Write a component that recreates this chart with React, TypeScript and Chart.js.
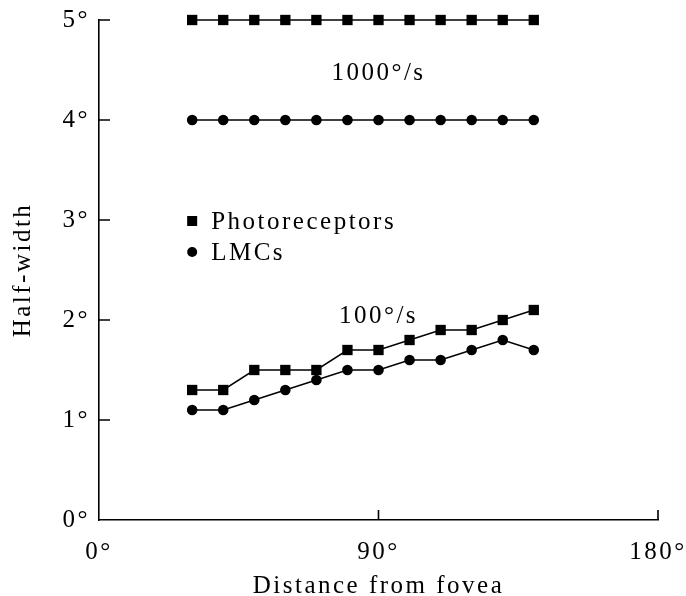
import { useEffect, useRef } from "react";
import { Chart, registerables } from "chart.js";

Chart.register(...registerables);

// ---- data ----
const distances = [30, 40, 50, 60, 70, 80, 90, 100, 110, 120, 130, 140];
const photoreceptors1000 = [5, 5, 5, 5, 5, 5, 5, 5, 5, 5, 5, 5];
const lmcs1000 = [4, 4, 4, 4, 4, 4, 4, 4, 4, 4, 4, 4];
const photoreceptors100 = [1.3, 1.3, 1.5, 1.5, 1.5, 1.7, 1.7, 1.8, 1.9, 1.9, 2.0, 2.1];
const lmcs100 = [1.1, 1.1, 1.2, 1.3, 1.4, 1.5, 1.5, 1.6, 1.6, 1.7, 1.8, 1.7];

const xTickValues = [0, 90, 180];
const yTickValues = [0, 1, 2, 3, 4, 5];
const xTitle = "Distance from fovea";
const yTitle = "Half-width";
const legendLabels = ["Photoreceptors", "LMCs"];
const speedLabels = ["1000°/s", "100°/s"];
// annotation anchor points in data units [x, y]
const speedLabelAnchors = [
  [90, 4.47],
  [90, 2.04],
];
const legendAnchors = [
  [30, 2.99],
  [30, 2.68],
];

const FONT = "'Liberation Serif', 'Times New Roman', serif";
const SPACING = "2.5px";

const toPoints = (ys: number[]) => distances.map((x, i) => ({ x, y: ys[i] }));

const letterSpacingPlugin = {
  id: "letterSpacing",
  beforeDraw(chart: any) {
    (chart.ctx as any).letterSpacing = SPACING;
  },
};

const decorPlugin = {
  id: "decor",
  afterDraw(chart: any) {
    const { ctx } = chart;
    const xs = chart.scales.x;
    const ys = chart.scales.y;
    ctx.save();
    ctx.strokeStyle = "#000";
    ctx.fillStyle = "#000";
    ctx.lineWidth = 1.6;
    // inward tick marks
    ctx.beginPath();
    for (const v of yTickValues) {
      if (v === 0) continue;
      const py = ys.getPixelForValue(v);
      ctx.moveTo(xs.left, py);
      ctx.lineTo(xs.left + 11, py);
    }
    for (const v of xTickValues) {
      if (v === 0) continue;
      const px = xs.getPixelForValue(v);
      ctx.moveTo(px, ys.bottom);
      ctx.lineTo(px, ys.bottom - 10);
    }
    ctx.stroke();

    ctx.font = `25px ${FONT}`;
    (ctx as any).letterSpacing = SPACING;
    ctx.textBaseline = "middle";

    // speed labels
    ctx.textAlign = "center";
    speedLabels.forEach((t, i) => {
      const [vx, vy] = speedLabelAnchors[i];
      ctx.fillText(t, xs.getPixelForValue(vx), ys.getPixelForValue(vy));
    });

    // legend
    ctx.textAlign = "left";
    legendLabels.forEach((t, i) => {
      const [vx, vy] = legendAnchors[i];
      const px = xs.getPixelForValue(vx);
      const py = ys.getPixelForValue(vy);
      if (i === 0) {
        ctx.fillRect(px - 5, py - 5, 10, 10);
      } else {
        ctx.beginPath();
        ctx.arc(px, py, 5, 0, Math.PI * 2);
        ctx.fill();
      }
      ctx.fillText(t, px + 19, py + 1);
    });
    ctx.restore();
  },
};

export default function App() {
  const ref = useRef<HTMLCanvasElement | null>(null);

  useEffect(() => {
    document.body.style.margin = "0";
    if (!ref.current) return;

    const mk = (label: string, ys: number[], style: "rect" | "circle") => ({
      label,
      data: toPoints(ys),
      borderColor: "#000",
      backgroundColor: "#000",
      borderWidth: 1.5,
      pointStyle: style,
      pointRadius: style === "rect" ? 7.3 : 5.3,
      pointHoverRadius: style === "rect" ? 7.3 : 5.3,
      pointBorderWidth: 0,
      pointBackgroundColor: "#000",
      tension: 0,
      clip: false as any,
    });

    const chart = new Chart(ref.current, {
      type: "line",
      data: {
        datasets: [
          mk("Photoreceptors 1000°/s", photoreceptors1000, "rect"),
          mk("LMCs 1000°/s", lmcs1000, "circle"),
          mk("Photoreceptors 100°/s", photoreceptors100, "rect"),
          mk("LMCs 100°/s", lmcs100, "circle"),
        ],
      },
      options: {
        animation: false,
        responsive: false,
        devicePixelRatio: 1,
        layout: { padding: { top: 20, right: 28, left: 0, bottom: 0 } },
        plugins: {
          legend: { display: false },
          tooltip: { enabled: false },
        },
        scales: {
          x: {
            type: "linear",
            min: 0,
            max: 180,
            afterBuildTicks: (s: any) => {
              s.ticks = xTickValues.map((value) => ({ value }));
            },
            afterFit: (s: any) => {
              s.height = 76;
              s.paddingLeft = 0;
              s.paddingRight = 0;
            },
            ticks: {
              callback: (v: any) => `${v}°`,
              font: { family: FONT, size: 25 },
              color: "#000",
              padding: 17,
              maxRotation: 0,
              autoSkip: false,
            },
            grid: { display: false, drawTicks: false },
            border: { display: true, color: "#000", width: 1.6 },
            title: {
              display: true,
              text: xTitle,
              color: "#000",
              font: { family: FONT, size: 25, lineHeight: 0.75 },
              padding: { top: 0, bottom: 0 },
            },
          },
          y: {
            type: "linear",
            min: 0,
            max: 5,
            afterBuildTicks: (s: any) => {
              s.ticks = yTickValues.map((value) => ({ value }));
            },
            afterFit: (s: any) => {
              s.width = 99;
              s.paddingTop = 0;
              s.paddingBottom = 0;
            },
            ticks: {
              callback: (v: any) => `${v}°`,
              font: { family: FONT, size: 25 },
              color: "#000",
              padding: 9,
              autoSkip: false,
            },
            grid: { display: false, drawTicks: false },
            border: { display: true, color: "#000", width: 1.6 },
            title: {
              display: true,
              text: yTitle,
              color: "#000",
              font: { family: FONT, size: 25, lineHeight: 1.2 },
              padding: { top: 8, bottom: 0 },
            },
          },
        },
      },
      plugins: [letterSpacingPlugin, decorPlugin],
    });

    return () => chart.destroy();
  }, []);

  return (
    <div style={{ width: 686, height: 596 }}>
      <canvas ref={ref} width={686} height={596} style={{ display: "block" }} />
    </div>
  );
}
